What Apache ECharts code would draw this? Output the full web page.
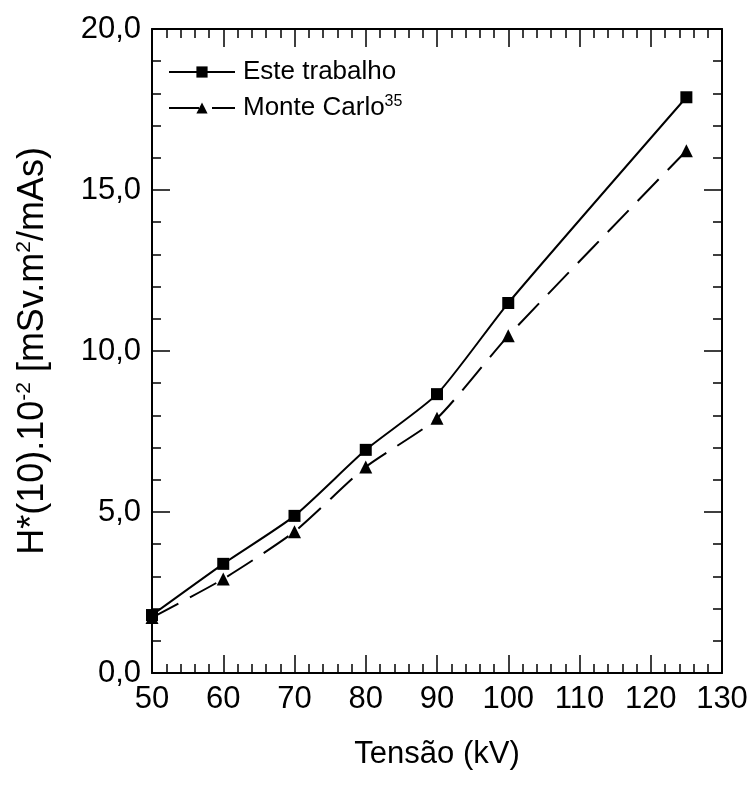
<!DOCTYPE html>
<html>
<head>
<meta charset="utf-8">
<title>H*(10) vs Tensão</title>
<script src="https://cdn.jsdelivr.net/npm/echarts@6/dist/echarts.min.js"></script>
<style>
  html, body { margin: 0; padding: 0; background: #fff; }
  #chart { width: 752px; height: 785px; }
</style>
</head>
<body>
<div id="chart"></div>
<script>
// Tube voltage (kV)
const tensao = [50, 60, 70, 80, 90, 100, 125];
// H*(10).10^-2 [mSv.m2/mAs]
const esteTrabalho = [1.80, 3.39, 4.88, 6.93, 8.66, 11.49, 17.88];
const monteCarlo = [1.72, 2.92, 4.39, 6.40, 7.91, 10.47, 16.22];

const xTicks = { min: 50, max: 130, interval: 10 };
const yTicks = { min: 0, max: 20, interval: 5 };

const FONT = 'Liberation Sans, Arial, sans-serif';

const pairs = (xs, ys) => xs.map((x, i) => [x, ys[i]]);
const comma = v => v.toFixed(1).replace('.', ',');

const axisLineStyle = { show: true, onZero: false, lineStyle: { color: '#000', width: 2 } };
const tickStyle = { show: true, inside: true, length: 18, lineStyle: { color: '#000', width: 1.5 } };
const minorStyle = { show: true, splitNumber: 5, length: 9, lineStyle: { color: '#000', width: 1.5 } };

const chart = echarts.init(document.getElementById('chart'), null, { renderer: 'canvas' });

chart.setOption({
  backgroundColor: '#fff',
  animation: false,
  grid: { left: 152, right: 30, top: 29, bottom: 112, containLabel: false },
  legend: {
    orient: 'vertical',
    left: 163,
    top: 54,
    itemWidth: 66,
    itemHeight: 14,
    itemGap: 9,
    data: ['Este trabalho', 'Monte Carlo'],
    formatter: name => name === 'Monte Carlo' ? '{t|Monte Carlo}{s|35}' : '{t|' + name + '}',
    textStyle: {
      color: '#000',
      fontFamily: FONT,
      padding: [0, 0, 0, 3],
      rich: {
        t: { fontSize: 26, lineHeight: 28, fontFamily: FONT, color: '#000' },
        s: { fontSize: 16, verticalAlign: 'top', fontFamily: FONT, color: '#000' }
      }
    }
  },
  xAxis: [
    {
      type: 'value', min: xTicks.min, max: xTicks.max, interval: xTicks.interval,
      position: 'bottom',
      name: 'Tensão (kV)', nameLocation: 'middle', nameGap: 66,
      nameTextStyle: { fontSize: 31, fontFamily: FONT, color: '#000' },
      axisLine: axisLineStyle, axisTick: tickStyle, minorTick: minorStyle,
      splitLine: { show: false },
      axisLabel: { fontSize: 31, fontFamily: FONT, color: '#000', margin: 11 }
    },
    {
      type: 'value', min: xTicks.min, max: xTicks.max, interval: xTicks.interval,
      position: 'top',
      axisLine: axisLineStyle, axisTick: tickStyle, minorTick: minorStyle,
      splitLine: { show: false }, axisLabel: { show: false }
    }
  ],
  yAxis: [
    {
      type: 'value', min: yTicks.min, max: yTicks.max, interval: yTicks.interval,
      position: 'left',
      name: '{t|H*(10).10}{s|-2}{t| [mSv.m}{s|2}{t|/mAs)}',
      nameLocation: 'middle', nameRotate: 90, nameGap: 100,
      nameTextStyle: {
        fontFamily: FONT, color: '#000',
        rich: {
          t: { fontSize: 36, lineHeight: 38, fontFamily: FONT, color: '#000' },
          s: { fontSize: 21, verticalAlign: 'top', fontFamily: FONT, color: '#000' }
        }
      },
      axisLine: axisLineStyle, axisTick: tickStyle, minorTick: minorStyle,
      splitLine: { show: false },
      axisLabel: { fontSize: 31, fontFamily: FONT, color: '#000', margin: 11, formatter: comma }
    },
    {
      type: 'value', min: yTicks.min, max: yTicks.max, interval: yTicks.interval,
      position: 'right',
      axisLine: axisLineStyle, axisTick: tickStyle, minorTick: minorStyle,
      splitLine: { show: false }, axisLabel: { show: false }
    }
  ],
  series: [
    {
      name: 'Este trabalho', type: 'line',
      data: pairs(tensao, esteTrabalho),
      smooth: 0.2,
      symbol: 'rect', symbolSize: 12,
      itemStyle: { color: '#000' },
      lineStyle: { color: '#000', width: 2 }
    },
    {
      name: 'Monte Carlo', type: 'line',
      data: pairs(tensao, monteCarlo),
      smooth: 0.2,
      symbol: 'triangle', symbolSize: 13,
      itemStyle: { color: '#000' },
      lineStyle: { color: '#000', width: 2, type: [30, 13] }
    }
  ]
});
</script>
</body>
</html>
